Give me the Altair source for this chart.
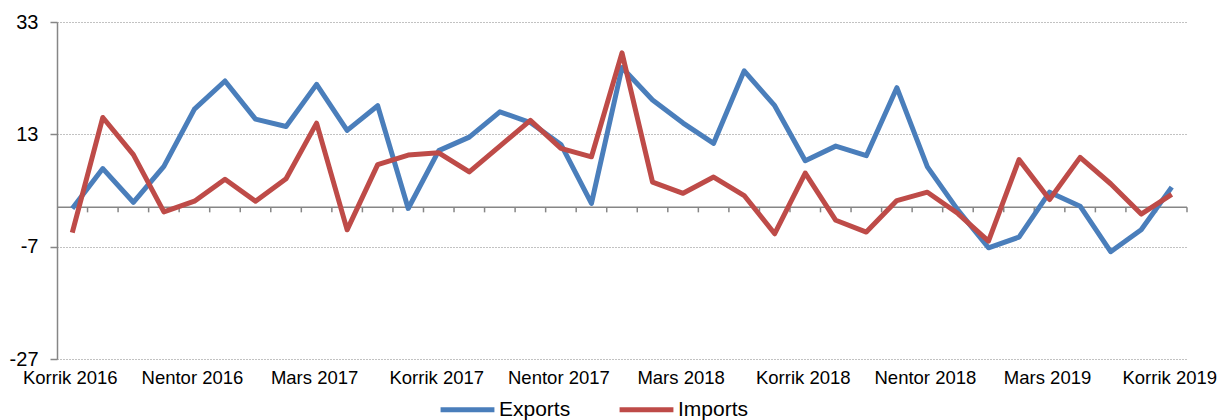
import json
import altair as alt
import pandas as pd

months = [
    "Korrik 2016", "Gusht 2016", "Shtator 2016", "Tetor 2016", "Nentor 2016", "Dhjetor 2016",
    "Janar 2017", "Shkurt 2017", "Mars 2017", "Prill 2017", "Maj 2017", "Qershor 2017",
    "Korrik 2017", "Gusht 2017", "Shtator 2017", "Tetor 2017", "Nentor 2017", "Dhjetor 2017",
    "Janar 2018", "Shkurt 2018", "Mars 2018", "Prill 2018", "Maj 2018", "Qershor 2018",
    "Korrik 2018", "Gusht 2018", "Shtator 2018", "Tetor 2018", "Nentor 2018", "Dhjetor 2018",
    "Janar 2019", "Shkurt 2019", "Mars 2019", "Prill 2019", "Maj 2019", "Qershor 2019",
    "Korrik 2019",
]
exports = [
    -0.2, 6.9, 0.9, 7.3, 17.5, 22.5, 15.7, 14.4, 21.9, 13.7, 18.1, -0.2,
    10.1, 12.5, 17.0, 15.1, 11.2, 0.7, 24.9, 19.1, 15.0, 11.4, 24.3, 18.1,
    8.3, 10.9, 9.2, 21.3, 7.2, -0.5, -7.2, -5.3, 2.7, 0.2, -7.9, -4.0, 3.6,
]
imports = [
    -4.5, 16.0, 9.4, -0.8, 1.1, 5.0, 1.1, 5.1, 15.0, -4.0, 7.6, 9.3,
    9.7, 6.3, 10.9, 15.5, 10.5, 9.0, 27.5, 4.5, 2.5, 5.4, 2.1, -4.7,
    6.1, -2.3, -4.4, 1.2, 2.7, -1.1, -6.0, 8.5, 1.4, 8.9, 4.2, -1.2, 2.3,
]
series_names = ["Exports", "Imports"]
series_colors = ["#4A7EBB", "#BE4B48"]
y_ticks = [-27, -7, 13, 33]
label_idx = list(range(0, len(months), 4))
baseline = [0]

rows = []
for i, m in enumerate(months):
    rows.append({"idx": i, "month": m, "series": "Exports", "value": exports[i]})
    rows.append({"idx": i, "month": m, "series": "Imports", "value": imports[i]})
df = pd.DataFrame(rows)
ticks_df = pd.DataFrame({"idx": list(range(len(months))), "zero": baseline * len(months)})
base_df = pd.DataFrame({"v": baseline})

FONT = "Liberation Sans"
GRAY = "#868686"

x_scale = alt.Scale(domain=[-0.5, len(months) - 0.5], nice=False, zero=False)
y_scale = alt.Scale(domain=[y_ticks[0], y_ticks[-1]], nice=False, zero=False)
label_expr = json.dumps(months) + "[datum.value]"

x_axis = alt.Axis(
    values=label_idx, labelExpr=label_expr, title=None, domain=False, ticks=False,
    grid=False, labelFont=FONT, labelFontSize=18.5, labelColor="black",
    labelPadding=12, labelOverlap=False, labelFlush=False, translate=-2,
)
y_axis = alt.Axis(
    values=y_ticks, title=None, domain=True, domainColor=GRAY, domainWidth=1.5,
    ticks=True, tickColor=GRAY, tickSize=7, tickWidth=1.5, grid=True,
    gridColor=GRAY, gridDash=[1, 2], gridWidth=1.2, labelFont=FONT,
    labelFontSize=20, labelPadding=12, labelColor="black",
    labelExpr="toString(datum.value)",
)

zero_rule = alt.Chart(base_df).mark_rule(color=GRAY, strokeWidth=1.5).encode(
    y=alt.Y("v:Q", scale=y_scale, axis=y_axis)
)

tick_marks = (
    alt.Chart(ticks_df)
    .transform_calculate(edge="datum.idx + 0.5")
    .mark_tick(orient="vertical", size=5, thickness=1.5, color=GRAY, yOffset=2.5, opacity=1)
    .encode(
        x=alt.X("edge:Q", scale=x_scale, axis=x_axis),
        y=alt.Y("zero:Q", scale=y_scale, axis=y_axis),
    )
)

lines = alt.Chart(df).mark_line(strokeWidth=5, strokeJoin="round").encode(
    x=alt.X("idx:Q", scale=x_scale, axis=x_axis),
    y=alt.Y("value:Q", scale=y_scale, axis=y_axis),
    color=alt.Color(
        "series:N",
        scale=alt.Scale(domain=series_names, range=series_colors),
        legend=alt.Legend(
            title=None, orient="none", legendX=381, legendY=358, direction="horizontal",
            symbolType="stroke", symbolSize=2900, symbolStrokeWidth=5,
            labelFont=FONT, labelFontSize=21, labelColor="black", columnPadding=38,
            labelOffset=2, padding=0,
        ),
    ),
)

chart = (
    alt.layer(zero_rule, tick_marks, lines)
    .properties(
        width=1130,
        height=337,
        padding={"left": 49, "top": 14, "right": 30, "bottom": 61},
        autosize=alt.AutoSizeParams(type="none"),
    )
    .configure_view(stroke=None)
)

chart.save("out.html", embed_options={"renderer": "svg", "actions": False})
